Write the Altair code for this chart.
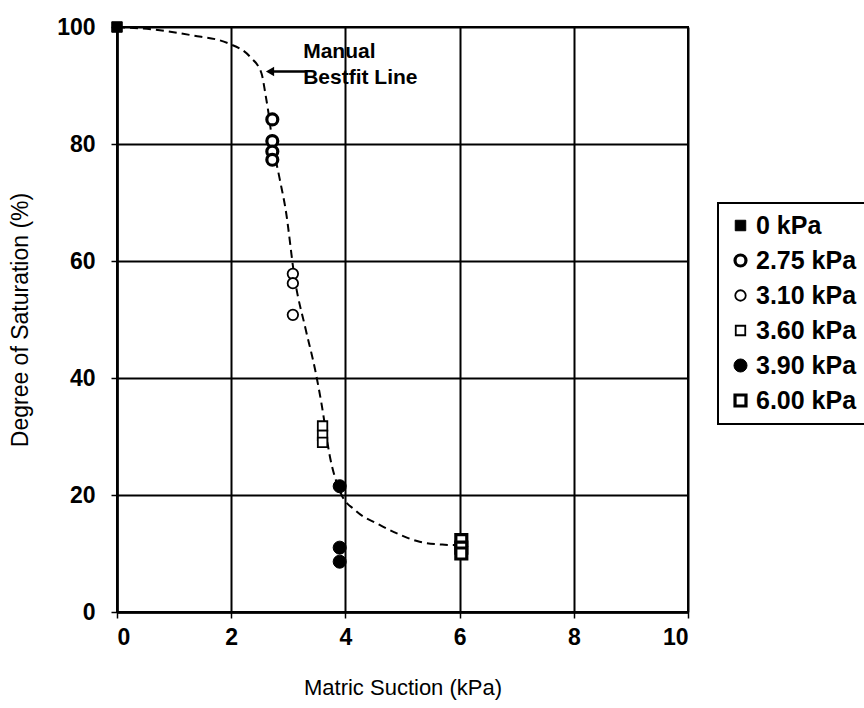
import altair as alt
import pandas as pd

# Measured points (series label, matric suction kPa, degree of saturation %)
series_names = ["0 kPa", "2.75 kPa", "3.10 kPa", "3.60 kPa", "3.90 kPa", "6.00 kPa"]
pt_series = ["0 kPa",
             "2.75 kPa", "2.75 kPa", "2.75 kPa", "2.75 kPa",
             "3.10 kPa", "3.10 kPa", "3.10 kPa",
             "3.60 kPa", "3.60 kPa", "3.60 kPa",
             "3.90 kPa", "3.90 kPa", "3.90 kPa",
             "6.00 kPa", "6.00 kPa", "6.00 kPa"]
pt_x = [0.0,
        2.72, 2.72, 2.72, 2.72,
        3.08, 3.08, 3.08,
        3.60, 3.60, 3.60,
        3.90, 3.90, 3.90,
        6.03, 6.03, 6.03]
pt_y = [100.0,
        84.2, 80.5, 78.7, 77.3,
        57.8, 56.2, 50.8,
        31.8, 30.2, 29.0,
        21.5, 11.0, 8.6,
        12.3, 11.0, 10.0]

# Manual best-fit line
curve_x = [0, 0.6, 1.3, 1.95, 2.33, 2.53, 2.6, 2.65, 2.72, 2.85, 2.95, 3.12, 3.3,
           3.47, 3.58, 3.73, 3.92, 4.17, 4.6, 4.96, 5.3, 5.74, 6.0]
curve_y = [100, 99.6, 98.6, 97.2, 94.9, 92.1, 88.5, 85.5, 80.5, 74, 69, 56.5, 48.5,
           41.4, 35.7, 26.5, 20.3, 17.4, 14.9, 13.2, 12, 11.5, 11.4]

# Annotation
note_lines = ["Manual", "Bestfit Line"]
note_x = [3.26]
note_y = [95.7]
arrow_x = [3.3]
arrow_x2 = [2.68]
arrow_y = [92.4]

shapes = ["square", "circle", "circle", "square", "circle", "square"]
fills = ["black", "white", "white", "white", "black", "white"]
strokes = ["black"] * 6
widths = [1, 3.2, 1.8, 1.8, 1, 3.2]
sizes = [110, 120, 110, 90, 170, 120]

FONT = "Liberation Sans"

pts = pd.DataFrame({"series": pt_series, "x": pt_x, "y": pt_y})
curve = pd.DataFrame({"x": curve_x, "y": curve_y})
note = pd.DataFrame({"x": note_x, "y": note_y, "t": [note_lines]})
arrow = pd.DataFrame({"x": arrow_x, "x2": arrow_x2, "y": arrow_y})

xscale = alt.Scale(domain=[0, 10], nice=False)
yscale = alt.Scale(domain=[0, 100], nice=False)
xaxis = alt.Axis(title="Matric Suction (kPa)", values=[0, 2, 4, 6, 8, 10], format="d")
yaxis = alt.Axis(title="Degree of Saturation (%)", values=[0, 20, 40, 60, 80, 100], format="d")

line = alt.Chart(curve).mark_line(color="black", strokeWidth=2, strokeDash=[8, 5],
                                  interpolate="monotone").encode(
    x=alt.X("x:Q", scale=xscale, axis=xaxis),
    y=alt.Y("y:Q", scale=yscale, axis=yaxis),
)

leg = alt.Legend(title=None)
points = alt.Chart(pts).mark_point(opacity=1, fillOpacity=1).encode(
    x=alt.X("x:Q", scale=xscale),
    y=alt.Y("y:Q", scale=yscale),
    shape=alt.Shape("series:N", scale=alt.Scale(domain=series_names, range=shapes), legend=leg),
    fill=alt.Fill("series:N", scale=alt.Scale(domain=series_names, range=fills), legend=leg),
    stroke=alt.Stroke("series:N", scale=alt.Scale(domain=series_names, range=strokes), legend=leg),
    strokeWidth=alt.StrokeWidth("series:N", scale=alt.Scale(type="ordinal", domain=series_names, range=widths), legend=leg),
    size=alt.Size("series:N", scale=alt.Scale(type="ordinal", domain=series_names, range=sizes), legend=leg),
)

rule = alt.Chart(arrow).mark_rule(color="black", strokeWidth=2.5).encode(
    x="x:Q", x2="x2:Q", y="y:Q"
)
head = alt.Chart(arrow).mark_point(shape="triangle-left", filled=True, color="black",
                                   opacity=1, size=90).encode(
    x="x2:Q", y="y:Q"
)
text = alt.Chart(note).mark_text(align="left", baseline="middle", font=FONT, fontSize=21,
                                 fontWeight="bold", lineHeight=26, color="black").encode(
    x="x:Q", y="y:Q", text="t"
)

chart = alt.layer(line, points, rule, head, text).properties(
    width=571, height=585,
    autosize=alt.AutoSizeParams(type="none"),
    padding={"left": 117, "top": 27, "right": 176, "bottom": 96},
).configure_view(
    stroke="black", strokeWidth=2
).configure_axis(
    grid=True, gridColor="black", gridOpacity=1, gridWidth=2,
    domainColor="black", domainWidth=2.5,
    tickColor="black", tickWidth=1.5, tickSize=6,
    labelFont=FONT, labelFontSize=23, labelFontWeight="bold", labelColor="black",
    titleFont=FONT, titleFontSize=22, titleFontWeight="normal", titleColor="black",
).configure_axisX(
    labelPadding=8, titlePadding=28
).configure_axisY(
    labelPadding=16, titlePadding=24, titleFontSize=23
).configure_legend(
    orient="none", legendX=601, legendY=176,
    strokeColor="black", strokeWidth=2, fillColor="white",
    padding=10, rowPadding=9, labelOffset=3,
    labelFont=FONT, labelFontSize=25, labelFontWeight="bold", labelColor="black",
    symbolOpacity=1, labelLimit=300,
)

chart.save("out.html", embed_options={"renderer": "svg", "actions": False})
